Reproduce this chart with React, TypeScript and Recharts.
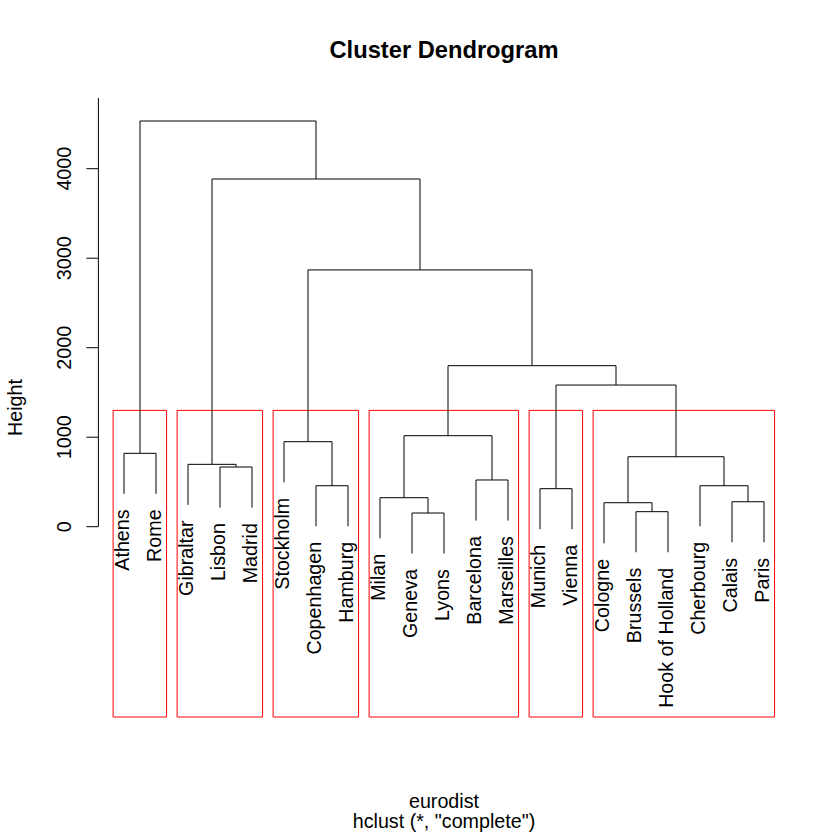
import React from 'react';
import { ComposedChart, XAxis, YAxis, ReferenceLine, ReferenceArea, Scatter } from 'recharts';

// Leaves in display order (1-based positions)
const leafLabels = [
  'Athens', 'Rome', 'Gibraltar', 'Lisbon', 'Madrid', 'Stockholm', 'Copenhagen', 'Hamburg',
  'Milan', 'Geneva', 'Lyons', 'Barcelona', 'Marseilles', 'Munich', 'Vienna', 'Cologne',
  'Brussels', 'Hook of Holland', 'Cherbourg', 'Calais', 'Paris',
];

// Merge table (R hclust style): negative = leaf position, positive = earlier merge
const mergeLeft = [-10, -17, -16, -20, -9, -14, -7, -19, -12, -4, -3, 3, -1, -6, 5, 6, 15, 14, 11, 13];
const mergeRight = [-11, -18, 2, -21, 1, -15, -8, 4, -13, -5, 10, 8, -2, 7, 9, 12, 16, 17, 18, 19];
const mergeHeights = [153, 168, 268, 279, 324, 425, 458, 458, 522, 667, 697, 782, 820, 950, 1017, 1583, 1799, 2869, 3885, 4533];

// rect.hclust(k = 6) clusters (first/last leaf positions)
const clusterFirst = [1, 3, 6, 9, 14, 16];
const clusterLast = [2, 5, 8, 13, 15, 21];

const yTicks = [0, 1000, 2000, 3000, 4000];
const yDomain = [-2126, 4790];
const xDomain = [0.2, 21.8];

const FONT = '"Liberation Sans", Arial, sans-serif';
const FS = 19.7;

const hang = 0.1 * Math.max(...mergeHeights);
const nodeX: number[] = [];
const segments: { x1: number; y1: number; x2: number; y2: number }[] = [];
const leafEnd: number[] = [];
mergeHeights.forEach((h, i) => {
  const kids = [mergeLeft[i], mergeRight[i]].map((c) => {
    if (c < 0) {
      leafEnd[-c] = h - hang;
      return { x: -c, bottom: h - hang };
    }
    return { x: nodeX[c - 1], bottom: mergeHeights[c - 1] };
  });
  nodeX[i] = (kids[0].x + kids[1].x) / 2;
  segments.push({ x1: kids[0].x, y1: h, x2: kids[1].x, y2: h });
  kids.forEach((k) => segments.push({ x1: k.x, y1: h, x2: k.x, y2: k.bottom }));
});

const leafPoints = leafLabels.map((name, i) => ({ x: i + 1, y: leafEnd[i + 1], name }));

const k = clusterFirst.length;
const sortedDesc = [...mergeHeights].sort((a, b) => b - a);
const cutHeight = (sortedDesc[k - 2] + sortedDesc[k - 1]) / 2;

const YTick = (props: any) => {
  const { x, y, payload } = props;
  const tx = x - 15;
  return (
    <text x={tx} y={y} transform={`rotate(-90 ${tx} ${y})`} textAnchor="middle" fontSize={FS} fontFamily={FONT} fill="#000">
      {payload.value}
    </text>
  );
};

const LeafLabel = (props: any) => {
  const { cx, cy, payload } = props;
  const ty = cy + 15.5;
  return (
    <text x={cx} y={ty} dy={4.9} transform={`rotate(-90 ${cx} ${ty})`} textAnchor="end" fontSize={FS} fontFamily={FONT} fill="#000">
      {payload.name}
    </text>
  );
};

export default function App() {
  return (
    <div style={{ position: 'absolute', left: 0, top: 0, width: 840, height: 840, background: '#fff' }}>
      <ComposedChart width={840} height={840} margin={{ top: 98, right: 50.4, bottom: 123, left: 0 }}>
        <XAxis type="number" dataKey="x" domain={xDomain} allowDataOverflow hide />
        <YAxis
          type="number"
          dataKey="y"
          domain={yDomain}
          allowDataOverflow
          ticks={yTicks}
          width={98.4}
          axisLine={false}
          tickLine={{ stroke: '#000' }}
          tickSize={12}
          tickMargin={0}
          tick={<YTick />}
          interval={0}
        />
        <ReferenceLine
          segment={[{ x: xDomain[0], y: yTicks[0] }, { x: xDomain[0], y: yDomain[1] }]}
          stroke="#000"
          strokeWidth={1}
          ifOverflow="visible"
        />
        {clusterFirst.map((f, i) => (
          <ReferenceArea
            key={'c' + i}
            x1={f - 0.34}
            x2={clusterLast[i] + 0.33}
            y1={yDomain[0]}
            y2={cutHeight}
            fill="none"
            fillOpacity={0}
            stroke="#ff0000"
            strokeWidth={1}
            ifOverflow="visible"
          />
        ))}
        {segments.map((s, i) => (
          <ReferenceLine
            key={'s' + i}
            segment={[{ x: s.x1, y: s.y1 }, { x: s.x2, y: s.y2 }]}
            stroke="#000"
            strokeWidth={1}
            ifOverflow="visible"
          />
        ))}
        <Scatter data={leafPoints} dataKey="y" isAnimationActive={false} shape={<LeafLabel />} />
      </ComposedChart>
      <svg width={840} height={840} style={{ position: 'absolute', left: 0, top: 0, pointerEvents: 'none' }}>
        <text x={444} y={58} textAnchor="middle" fontSize={23.7} fontWeight="bold" fontFamily={FONT} fill="#000">
          Cluster Dendrogram
        </text>
        <text x={444} y={807.5} textAnchor="middle" fontSize={FS} fontFamily={FONT} fill="#000">
          eurodist
        </text>
        <text x={444} y={828.3} textAnchor="middle" fontSize={FS} fontFamily={FONT} fill="#000">
          hclust (*, "complete")
        </text>
        <text x={22} y={407.5} transform="rotate(-90 22 407.5)" textAnchor="middle" fontSize={FS} fontFamily={FONT} fill="#000">
          Height
        </text>
      </svg>
    </div>
  );
}
